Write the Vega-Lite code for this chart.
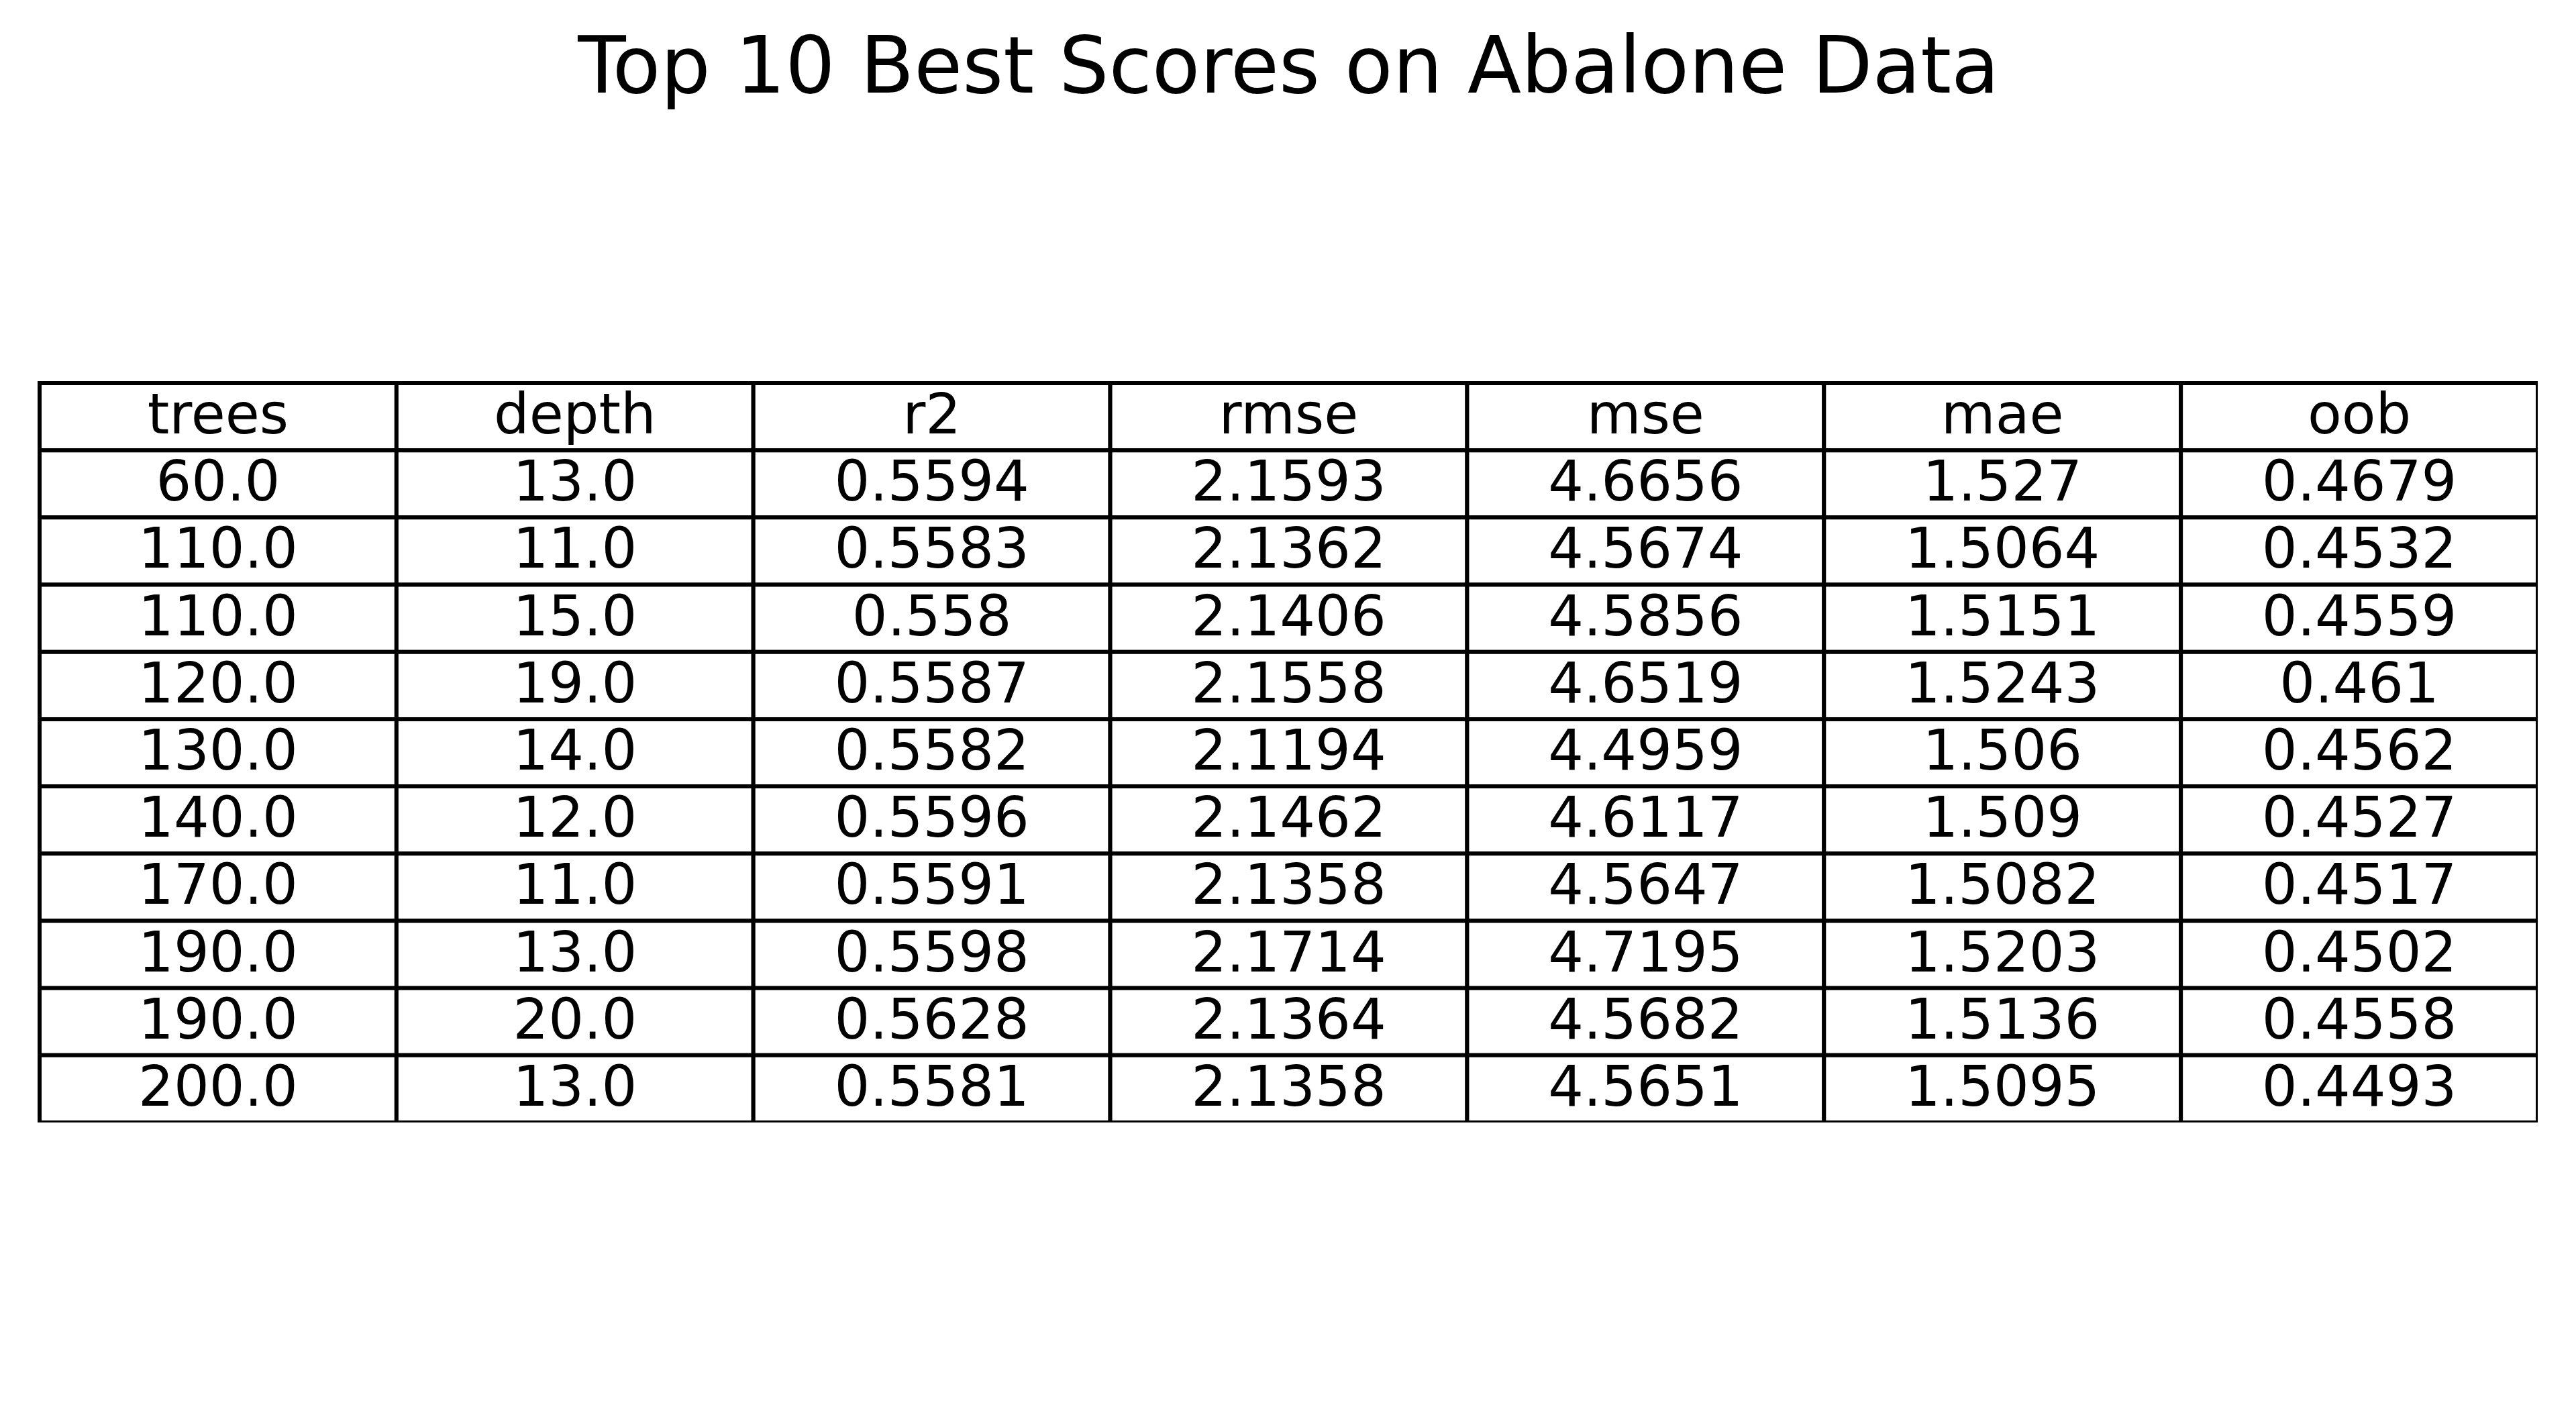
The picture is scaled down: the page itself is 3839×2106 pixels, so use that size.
{
"$schema":"https://vega.github.io/schema/vega-lite/v6.json",
"autosize":{"type":"none"},
"padding":{"left":59,"top":571,"right":0,"bottom":0},
"width":3723,"height":1102,
"background":"white",
"config":{"view":{"stroke":null}},
"title":{"text":"Top 10 Best Scores on Abalone Data","font":"DejaVu Sans","fontSize":117,"fontWeight":"normal","color":"black","anchor":"middle","offset":405},
"data":{"values":[
{"r":0,"trees":"trees","depth":"depth","r2":"r2","rmse":"rmse","mse":"mse","mae":"mae","oob":"oob"},
{"r":1,"trees":"60.0","depth":"13.0","r2":"0.5594","rmse":"2.1593","mse":"4.6656","mae":"1.527","oob":"0.4679"},
{"r":2,"trees":"110.0","depth":"11.0","r2":"0.5583","rmse":"2.1362","mse":"4.5674","mae":"1.5064","oob":"0.4532"},
{"r":3,"trees":"110.0","depth":"15.0","r2":"0.558","rmse":"2.1406","mse":"4.5856","mae":"1.5151","oob":"0.4559"},
{"r":4,"trees":"120.0","depth":"19.0","r2":"0.5587","rmse":"2.1558","mse":"4.6519","mae":"1.5243","oob":"0.461"},
{"r":5,"trees":"130.0","depth":"14.0","r2":"0.5582","rmse":"2.1194","mse":"4.4959","mae":"1.506","oob":"0.4562"},
{"r":6,"trees":"140.0","depth":"12.0","r2":"0.5596","rmse":"2.1462","mse":"4.6117","mae":"1.509","oob":"0.4527"},
{"r":7,"trees":"170.0","depth":"11.0","r2":"0.5591","rmse":"2.1358","mse":"4.5647","mae":"1.5082","oob":"0.4517"},
{"r":8,"trees":"190.0","depth":"13.0","r2":"0.5598","rmse":"2.1714","mse":"4.7195","mae":"1.5203","oob":"0.4502"},
{"r":9,"trees":"190.0","depth":"20.0","r2":"0.5628","rmse":"2.1364","mse":"4.5682","mae":"1.5136","oob":"0.4558"},
{"r":10,"trees":"200.0","depth":"13.0","r2":"0.5581","rmse":"2.1358","mse":"4.5651","mae":"1.5095","oob":"0.4493"}
]},
"transform":[{"fold":["trees","depth","r2","rmse","mse","mae","oob"],"as":["col","val"]}],
"encoding":{
"x":{"field":"col","type":"nominal","sort":["trees","depth","r2","rmse","mse","mae","oob"],"axis":null,"scale":{"paddingInner":0,"paddingOuter":0}},
"y":{"field":"r","type":"ordinal","axis":null,"scale":{"paddingInner":0,"paddingOuter":0}}
},
"layer":[
{"mark":{"type":"rect","fill":"white","stroke":"black","strokeWidth":6}},
{"mark":{"type":"text","font":"DejaVu Sans","fontSize":83,"color":"black","baseline":"middle","align":"center"},
"encoding":{"text":{"field":"val"},
"x":{"field":"col","type":"nominal","sort":["trees","depth","r2","rmse","mse","mae","oob"],"axis":null,"bandPosition":0.5,"scale":{"paddingInner":0,"paddingOuter":0}},
"y":{"field":"r","type":"ordinal","axis":null,"bandPosition":0.5,"scale":{"paddingInner":0,"paddingOuter":0}}}}
]
}
